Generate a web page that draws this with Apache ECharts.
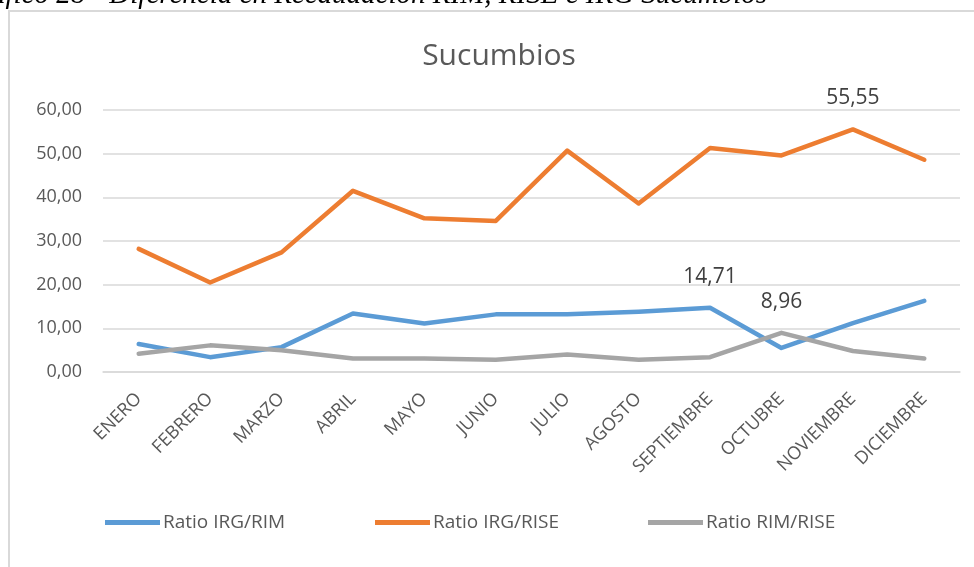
<!DOCTYPE html>
<html>
<head>
<meta charset="utf-8">
<script src="https://cdn.jsdelivr.net/npm/echarts@6/dist/echarts.min.js"></script>
<style>
  html, body { margin: 0; padding: 0; background: #fff; }
  #main { width: 974px; height: 567px; }
</style>
</head>
<body>
<div id="main"></div>
<script>
// datos
const meses = ['ENERO', 'FEBRERO', 'MARZO', 'ABRIL', 'MAYO', 'JUNIO', 'JULIO',
  'AGOSTO', 'SEPTIEMBRE', 'OCTUBRE', 'NOVIEMBRE', 'DICIEMBRE'];
const irgRim = [6.4, 3.4, 5.7, 13.4, 11.1, 13.2, 13.2, 13.8, 14.71, 5.5, 11.2, 16.3];
const irgRise = [28.2, 20.5, 27.4, 41.5, 35.2, 34.6, 50.7, 38.6, 51.3, 49.6, 55.55, 48.6];
const rimRise = [4.2, 6.1, 5.0, 3.1, 3.1, 2.8, 4.0, 2.8, 3.4, 8.96, 4.8, 3.1];
const nombres = ['Ratio IRG/RIM', 'Ratio IRG/RISE', 'Ratio RIM/RISE'];
const colores = ['#5b9bd5', '#ed7d31', '#a5a5a5'];
// que punto lleva etiqueta en cada serie
const etiquetas = [8, 10, 9];

const FONT = '"Open Sans", "Noto Sans", sans-serif';
const fmt = v => v.toFixed(2).replace('.', ',');

const chart = echarts.init(document.getElementById('main'), null, { renderer: 'canvas' });

const serie = (name, data, i) => ({
  name: name,
  type: 'line',
  data: data.map((v, j) => j === etiquetas[i]
    ? { value: v, label: { show: true } }
    : v),
  // el simbolo es casi invisible, pero hace falta para la etiqueta
  symbol: 'circle',
  symbolSize: 1,
  showSymbol: true,
  itemStyle: { color: colores[i] },
  color: colores[i],
  lineStyle: { width: 4.5, color: colores[i], cap: 'round', join: 'round' },
  label: {
    show: false,
    position: 'top',
    distance: 20,
    fontFamily: FONT,
    fontSize: 21,
    color: '#404040',
    formatter: p => fmt(p.value)
  },
  emphasis: { disabled: true }
});

const leyenda = (name, left) => ({
  data: [name],
  left: left,
  top: 508,
  icon: 'path://M0,0 L55,0 L55,5 L0,5 Z',
  itemWidth: 55,
  itemHeight: 5,
  itemGap: 0,
  textStyle: { fontFamily: FONT, fontSize: 19, color: '#595959', padding: [0, 0, 0, -2] },
  selectedMode: false
});

const option = {
  animation: false,
  graphic: [
    {
      type: 'rect',
      shape: { x: 9, y: 11, width: 1000, height: 600 },
      style: { fill: 'none', stroke: '#d9d9d9', lineWidth: 2 },
      silent: true
    },
    {
      type: 'text',
      x: 767, y: -5,
      style: {
        text: 'Gráfico 28 - Diferencia en Recaudación RIM, RISE e IRG Sucumbios',
        font: 'italic 29px "Liberation Serif", serif',
        fill: '#000',
        textAlign: 'right',
        textVerticalAlign: 'middle'
      },
      silent: true
    },
    {
      type: 'text',
      x: 499, y: 56,
      style: {
        text: 'Sucumbios',
        font: '30px ' + FONT,
        fill: '#595959',
        textAlign: 'center',
        textVerticalAlign: 'middle'
      },
      silent: true
    }
  ],
  legend: [
    leyenda(nombres[0], 100),
    leyenda(nombres[1], 370),
    leyenda(nombres[2], 643)
  ],
  grid: { left: 103, right: 14, top: 110, bottom: 195 },
  xAxis: {
    type: 'category',
    data: meses,
    boundaryGap: true,
    axisLine: { lineStyle: { color: '#d9d9d9', width: 1.5 } },
    axisTick: { show: false },
    axisLabel: {
      rotate: 45,
      margin: 24,
      interval: 0,
      fontFamily: FONT,
      fontSize: 18,
      color: '#595959'
    }
  },
  yAxis: {
    type: 'value',
    min: 0,
    max: 60,
    interval: 10,
    axisLine: { show: false },
    axisTick: { show: false },
    splitLine: { lineStyle: { color: '#d9d9d9', width: 1.5 } },
    axisLabel: {
      margin: 21,
      fontFamily: FONT,
      fontSize: 18,
      color: '#595959',
      formatter: v => fmt(v)
    }
  },
  series: [
    serie(nombres[0], irgRim, 0),
    serie(nombres[1], irgRise, 1),
    serie(nombres[2], rimRise, 2)
  ]
};

chart.setOption(option);
</script>
</body>
</html>
